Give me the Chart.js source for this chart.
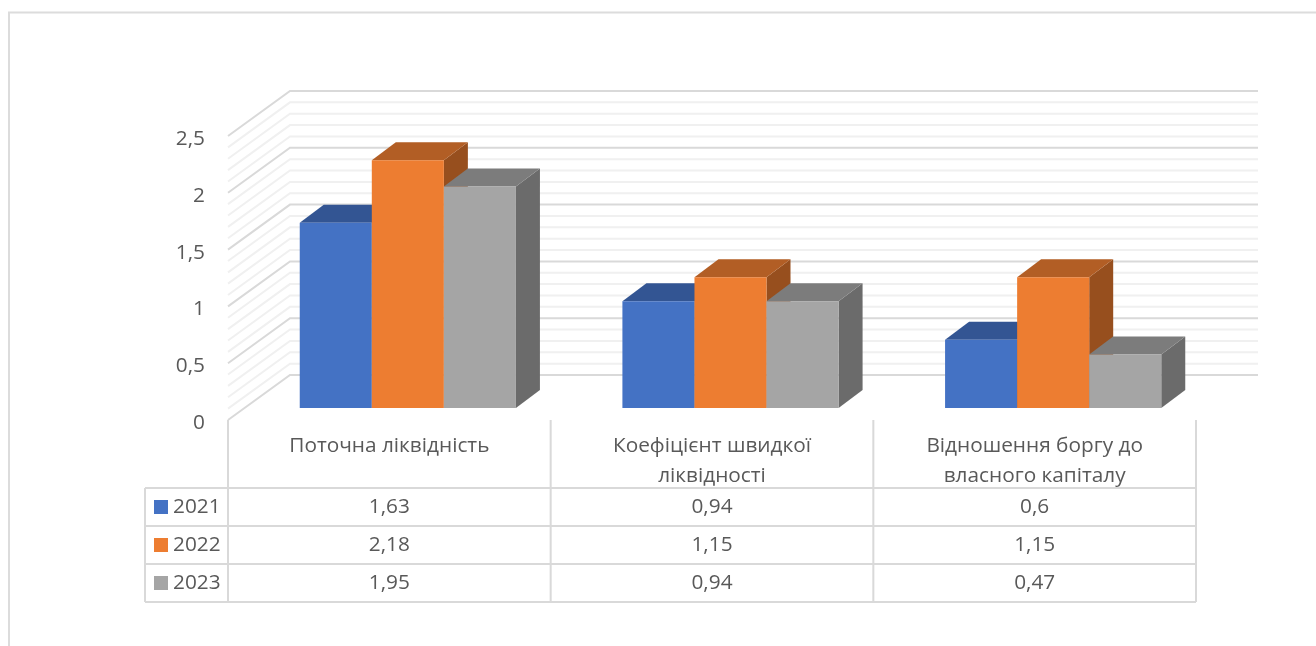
<!DOCTYPE html>
<html lang="uk">
<head>
<meta charset="utf-8">
<title>Показники ліквідності</title>
<script src="https://cdn.jsdelivr.net/npm/chart.js@4"></script>
<style>
    html, body { margin: 0; background: #fff; }
    canvas { display: block; }
</style>
</head>
<body>
<canvas id="liquidityChart" width="1316" height="646"></canvas>
<script>
const categories = [
    'Поточна ліквідність',
    ['Коефіцієнт швидкої', 'ліквідності'],
    ['Відношення боргу до', 'власного капіталу']
];
const years = ['2021', '2022', '2023'];
const values2021 = [1.63, 0.94, 0.6];
const values2022 = [2.18, 1.15, 1.15];
const values2023 = [1.95, 0.94, 0.47];

const frontColors = ['#4472C4', '#ED7D31', '#A5A5A5'];
const topColors = ['#335593', '#B25E25', '#7C7C7C'];
const sideColors = ['#2C4A80', '#974F1E', '#6B6B6B'];

const FONT = '"Open Sans", "Noto Sans", sans-serif';
const FONT_SIZE = 20.8;
const TEXT_COLOR = '#595959';
const TABLE_COLOR = '#D9D9D9';

// tick labels sit a little under the floor corner
const LABEL_DROP = 3;
// depth of the whole plot box and of one bar
const WALL_DX = 62, WALL_DY = -45;
const BAR_DX = 24, BAR_DY = -18;
// bars stand a bit behind the front edge of the floor
const BAR_SHIFT_X = 18.5, BAR_SHIFT_Y = -12 - LABEL_DROP;

const tableRows = [488, 526, 564, 602];
const tableLeft = 145;

function formatNumber(v) {
    return String(v).replace('.', ',');
}

function fillPoly(ctx, color, pts) {
    ctx.fillStyle = color;
    ctx.beginPath();
    pts.forEach((p, i) => i ? ctx.lineTo(p[0], p[1]) : ctx.moveTo(p[0], p[1]));
    ctx.closePath();
    ctx.fill();
}

const pageFrame = {
    id: 'pageFrame',
    beforeDraw(chart) {
        const ctx = chart.ctx;
        ctx.save();
        ctx.strokeStyle = '#DCDCDC';
        ctx.lineWidth = 2;
        ctx.beginPath();
        ctx.moveTo(9, 646);
        ctx.lineTo(9, 12.5);
        ctx.lineTo(1316, 12.5);
        ctx.stroke();
        ctx.restore();
    }
};

// walls first, then the bars left to right so each one covers the faces of the previous
const plotBox = {
    id: 'plotBox',
    beforeDatasetsDraw(chart) {
        const ctx = chart.ctx;
        const y = chart.scales.y;
        const area = chart.chartArea;
        const drawLine = (v, color, width) => {
            const py = y.getPixelForValue(v) - LABEL_DROP;
            ctx.strokeStyle = color;
            ctx.lineWidth = width;
            ctx.beginPath();
            ctx.moveTo(area.left, py);
            ctx.lineTo(area.left + WALL_DX, py + WALL_DY);
            ctx.lineTo(area.right + WALL_DX, py + WALL_DY);
            ctx.stroke();
        };
        ctx.save();
        for (let i = 0; i <= 25; i++) {
            if (i % 5) drawLine(i / 10, '#F0F0F0', 2);
        }
        for (let i = 0; i <= 25; i += 5) {
            drawLine(i / 10, '#D9D9D9', 2);
        }

        ctx.translate(BAR_SHIFT_X, BAR_SHIFT_Y);
        chart.data.datasets.forEach((ds, i) => {
            const meta = chart.getDatasetMeta(i);
            meta.data.forEach(bar => {
                const half = bar.width / 2;
                const l = bar.x - half, r = bar.x + half;
                fillPoly(ctx, sideColors[i], [
                    [r, bar.y], [r + BAR_DX, bar.y + BAR_DY],
                    [r + BAR_DX, bar.base + BAR_DY], [r, bar.base]
                ]);
                fillPoly(ctx, topColors[i], [
                    [l, bar.y], [l + BAR_DX, bar.y + BAR_DY],
                    [r + BAR_DX, bar.y + BAR_DY], [r, bar.y]
                ]);
            });
            meta.controller.draw();
        });
        ctx.restore();
        return false;
    }
};

// data table under the plot, with legend keys in the first column
const dataTable = {
    id: 'dataTable',
    afterDraw(chart) {
        const ctx = chart.ctx;
        const x = chart.scales.x;
        const area = chart.chartArea;
        const colEdges = categories.map((c, i) => x.getPixelForTick(i) + x.width / categories.length / 2);

        ctx.save();
        ctx.strokeStyle = TABLE_COLOR;
        ctx.lineWidth = 2;
        ctx.beginPath();
        tableRows.forEach(rowY => {
            ctx.moveTo(tableLeft, rowY);
            ctx.lineTo(area.right, rowY);
        });
        ctx.moveTo(tableLeft, tableRows[0]);
        ctx.lineTo(tableLeft, tableRows[3]);
        [area.left, ...colEdges].forEach(cx => {
            ctx.moveTo(cx, area.bottom - LABEL_DROP);
            ctx.lineTo(cx, tableRows[3]);
        });
        ctx.stroke();

        ctx.font = FONT_SIZE + 'px ' + FONT;
        ctx.textBaseline = 'middle';
        chart.data.datasets.forEach((ds, row) => {
            const midY = (tableRows[row] + tableRows[row + 1]) / 2;
            ctx.fillStyle = frontColors[row];
            ctx.fillRect(154, midY - 7, 14, 14);
            ctx.fillStyle = TEXT_COLOR;
            ctx.textAlign = 'left';
            ctx.fillText(ds.label, 173, midY);
            ctx.textAlign = 'center';
            ds.data.forEach((v, col) => {
                ctx.fillText(formatNumber(v), x.getPixelForTick(col), midY);
            });
        });
        ctx.restore();
    }
};

new Chart(document.getElementById('liquidityChart'), {
    type: 'bar',
    data: {
        labels: categories,
        datasets: [
            { label: years[0], data: values2021, backgroundColor: frontColors[0] },
            { label: years[1], data: values2022, backgroundColor: frontColors[1] },
            { label: years[2], data: values2023, backgroundColor: frontColors[2] }
        ]
    },
    options: {
        responsive: false,
        animation: false,
        layout: { padding: { left: 0, top: 136 + LABEL_DROP, right: 120, bottom: 0 } },
        datasets: { bar: { categoryPercentage: 0.67, barPercentage: 1, borderWidth: 0 } },
        plugins: {
            legend: { display: false },
            tooltip: { enabled: false }
        },
        scales: {
            x: {
                grid: { display: false },
                border: { display: false },
                afterFit(scale) { scale.height = 226 - LABEL_DROP; },
                ticks: {
                    maxRotation: 0,
                    autoSkip: false,
                    padding: 1,
                    color: TEXT_COLOR,
                    font: { family: FONT, size: FONT_SIZE, lineHeight: 1.4 }
                }
            },
            y: {
                min: 0,
                max: 2.5,
                grid: { display: false, drawTicks: false },
                border: { display: false },
                afterFit(scale) { scale.width = 228; },
                ticks: {
                    stepSize: 0.5,
                    padding: 23,
                    color: TEXT_COLOR,
                    font: { family: FONT, size: FONT_SIZE },
                    callback: v => formatNumber(v)
                }
            }
        }
    },
    plugins: [pageFrame, plotBox, dataTable]
});
</script>
</body>
</html>
